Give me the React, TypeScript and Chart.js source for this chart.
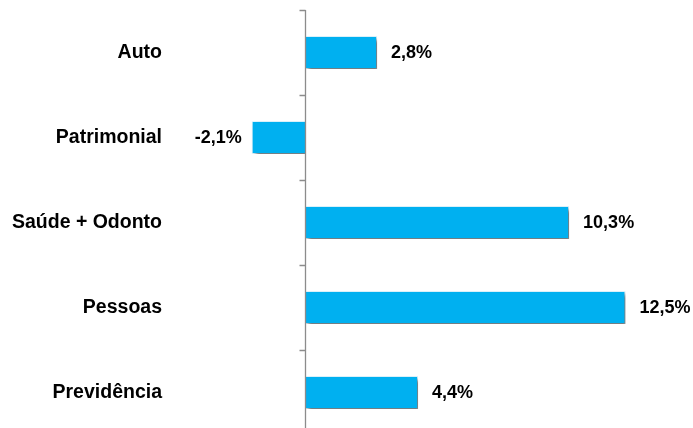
import React, { useEffect, useRef } from "react";
import { Chart, registerables } from "chart.js";

Chart.register(...registerables);

const categories = ["Auto", "Patrimonial", "Saúde + Odonto", "Pessoas", "Previdência"];
const growth = [2.8, -2.1, 10.3, 12.5, 4.4];
const valueLabels = ["2,8%", "-2,1%", "10,3%", "12,5%", "4,4%"];

const FONT = "'Liberation Sans', Arial, sans-serif";

const axisPlugin = {
  id: "zeroAxis",
  afterDatasetsDraw(chart: any) {
    const { ctx, chartArea, scales } = chart;
    const xs = scales.x;
    const ys = scales.y;
    const x0 = Math.round(xs.getPixelForValue(0)) + 0.5;
    ctx.save();
    ctx.strokeStyle = "#8c8c8c";
    ctx.lineWidth = 1.3;
    ctx.beginPath();
    ctx.moveTo(x0, chartArea.top);
    ctx.lineTo(x0, chartArea.bottom);
    for (let i = 0; i <= categories.length; i++) {
      const y = Math.round(ys.getPixelForValue(i - 0.5)) + 0.5;
      ctx.moveTo(x0 - 6, y);
      ctx.lineTo(x0, y);
    }
    ctx.stroke();
    ctx.restore();
  },
};

const shadowPlugin = {
  id: "barShadow",
  beforeDatasetDraw(chart: any) {
    const ctx = chart.ctx;
    ctx.save();
    ctx.shadowColor = "rgba(0,0,0,0.55)";
    ctx.shadowBlur = 4;
    ctx.shadowOffsetX = 3;
    ctx.shadowOffsetY = 3;
  },
  afterDatasetDraw(chart: any) {
    chart.ctx.restore();
  },
};

const labelPlugin = {
  id: "valueLabels",
  afterDatasetsDraw(chart: any) {
    const { ctx } = chart;
    const meta = chart.getDatasetMeta(0);
    ctx.save();
    ctx.font = `bold 18px ${FONT}`;
    ctx.fillStyle = "#000000";
    ctx.textBaseline = "middle";
    meta.data.forEach((bar: any, i: number) => {
      const v = growth[i];
      if (v >= 0) {
        ctx.textAlign = "left";
        ctx.fillText(valueLabels[i], bar.x + 14, bar.y + 1);
      } else {
        ctx.textAlign = "right";
        ctx.fillText(valueLabels[i], bar.x - 10, bar.y + 1);
      }
    });
    ctx.restore();
  },
};

export default function App() {
  const ref = useRef<HTMLCanvasElement | null>(null);

  useEffect(() => {
    if (!ref.current) return;
    const chart = new Chart(ref.current, {
      type: "bar",
      data: {
        labels: categories,
        datasets: [
          {
            data: growth,
            backgroundColor: "#00b0f0",
            borderColor: "rgba(220,245,255,0.9)",
            borderWidth: 1,
            barPercentage: 0.39,
            categoryPercentage: 1,
          },
        ],
      },
      options: {
        indexAxis: "y",
        animation: false,
        responsive: false,
        maintainAspectRatio: false,
        layout: { padding: { top: 10, bottom: 1, left: 0, right: 0 } },
        plugins: {
          legend: { display: false },
          tooltip: { enabled: false },
        },
        scales: {
          x: {
            type: "linear",
            min: -5.29,
            max: 15.14,
            display: false,
            grid: { display: false },
          },
          y: {
            grid: { display: false, drawTicks: false },
            border: { display: false },
            ticks: {
              padding: 8,
              color: "#000000",
              font: { family: FONT, size: 19.5, weight: "bold" },
            },
            afterFit(scale: any) {
              scale.width = 170;
              scale.paddingTop = 0;
              scale.paddingBottom = 0;
            },
          },
        },
      },
      plugins: [shadowPlugin, axisPlugin, labelPlugin],
    });
    return () => chart.destroy();
  }, []);

  return (
    <div
      style={{
        position: "fixed",
        top: 0,
        left: 0,
        width: 693,
        height: 428,
        overflow: "hidden",
        background: "#ffffff",
      }}
    >
      <canvas ref={ref} width={693} height={436} style={{ display: "block" }} />
    </div>
  );
}
